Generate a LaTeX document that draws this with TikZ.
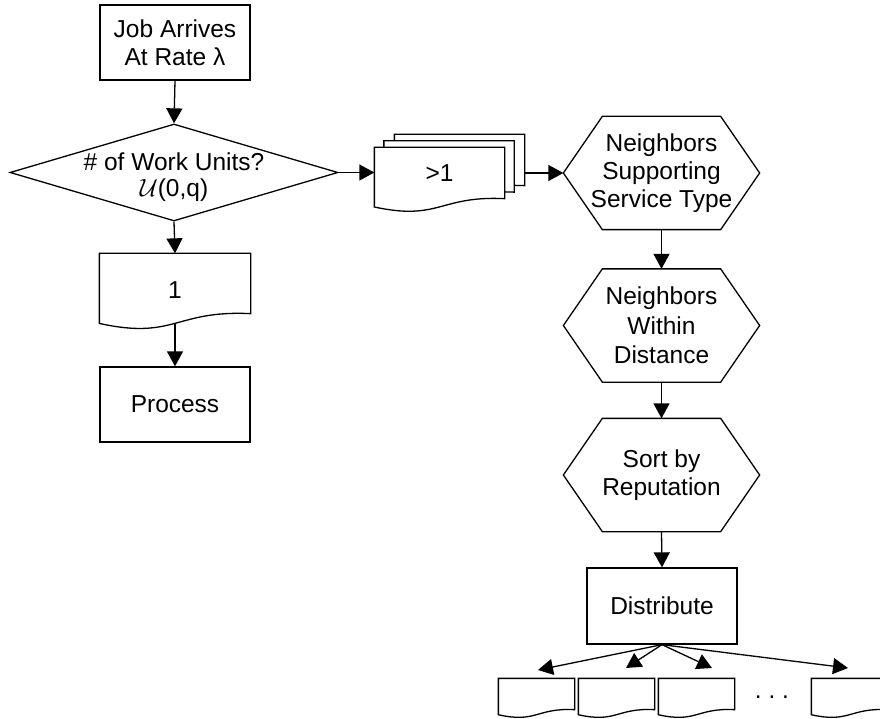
\documentclass[tikz,border=0pt]{standalone}
\usepackage{fontspec}
\setmainfont{Liberation Sans}
\usetikzlibrary{arrows.meta,shapes.geometric,calc,backgrounds}

% document symbol: flat top, wavy bottom below the node box
\newcommand\docoutline[1]{%
  \draw[line width=1.3pt, fill=white] let \p1=(#1.north west), \p2=(#1.south east),
     \n1={\x2-\x1}, \n2={\y1-\y2} in
     (\p1) -- (\x2,\y1) -- (\p2)
     .. controls (\x1+0.5*\n1, \y2+0.0625*\n2) and (\x1+0.5*\n1, \y2-0.4375*\n2) ..
     (\x1, \y2-0.1625*\n2) -- cycle;}

% preparation symbol: hexagon with pointed left and right ends
\newcommand\hexoutline[1]{%
  \draw[line width=1.3pt] ([xshift=39pt]#1.north west) -- ([xshift=-39pt]#1.north east) -- (#1.east)
     -- ([xshift=-39pt]#1.south east) -- ([xshift=39pt]#1.south west) -- (#1.west) -- cycle;}

\begin{document}
\begin{tikzpicture}[x=1pt,y=-1pt, line width=1.3pt,
  every node/.style={font=\fontsize{24.5pt}{28pt}\selectfont, align=center, inner sep=0pt},
  procbox/.style={draw, minimum width=150pt, minimum height=75pt},
  hexa/.style={minimum width=195pt, minimum height=112pt},
  docbig/.style={minimum width=129pt, minimum height=50pt},
  docone/.style={minimum width=150pt, minimum height=59pt},
  docsmall/.style={minimum width=75pt, minimum height=30pt},
  arr/.style={-{Triangle[length=15pt,width=16pt]}, line width=1.3pt}]

\path[use as bounding box] (0,0) rectangle (880,719);
\clip (0,0) rectangle (880,719);

% left column
\node[procbox] (job) at (175,42.5) {Job Arrives\\At Rate λ};
\node[diamond, draw, minimum width=328pt, minimum height=97pt] (dec) at (174,172.5) {};
\node[font=\fontsize{24.5pt}{25.5pt}\selectfont] (dectext) at (174,177) {\# of Work Units?\\$\mathcal{U}$(0,q)};
\node[docone, text height=30pt] (one) at (175,283.5) {1};
\coordinate (oneb) at ([yshift=-10pt]one.south);
\node[procbox] (proc) at (175,404.5) {Process};

% stacked documents
\node[docbig] (many3) at (459.5,160) {};
\node[docbig] (many2) at (449,166.5) {};
\node[docbig] (many) at (439.5,173) {>1};

% right column
\node[hexa] (hexA) at (661.5,173) {Neighbors\\Supporting\\Service Type};
\node[hexa, font=\fontsize{24.5pt}{29.5pt}\selectfont] (hexB) at (661.5,325.5) {Neighbors\\Within\\Distance};
\node[hexa] (hexC) at (661.5,475) {Sort by\\Reputation};
\node[procbox, minimum height=76pt] (dist) at (662,606) {Distribute};

% work unit documents
\node[docsmall] (w1) at (536.5,694) {};
\node[docsmall] (w2) at (616.5,694) {};
\node[docsmall] (w3) at (696.5,694) {};
\node (dots) at (772,697) {.\ .\ .};
\node[docsmall] (w4) at (849.5,694) {};

\coordinate (t1) at (538,670);
\coordinate (t2) at (626,668);
\coordinate (t3) at (712,668);
\coordinate (t4) at (848,668);

\begin{pgfonlayer}{background}
  \docoutline{one}
  \docoutline{many3}
  \docoutline{many2}
  \docoutline{many}
  \docoutline{w1}
  \docoutline{w2}
  \docoutline{w3}
  \docoutline{w4}
\end{pgfonlayer}
\hexoutline{hexA}
\hexoutline{hexB}
\hexoutline{hexC}

% connectors
\draw[arr] (job.south) -- (dec.north);
\draw[arr] (dec.south) -- (one.north);
\draw[arr] (oneb) -- (proc.north);
\draw[arr] (dec.east) -- (dec.east -| many.west);
\draw[arr] (many3.east |- hexA.west) -- (hexA.west);
\draw[arr] (hexA.south) -- (hexB.north);
\draw[arr] (hexB.south) -- (hexC.north);
\draw[arr] (hexC.south) -- (dist.north);
\draw[arr] (dist.south) -- (t1);
\draw[arr] (dist.south) -- (t2);
\draw[arr] (dist.south) -- (t3);
\draw[arr] (dist.south) -- (t4);
\end{tikzpicture}
\end{document}
